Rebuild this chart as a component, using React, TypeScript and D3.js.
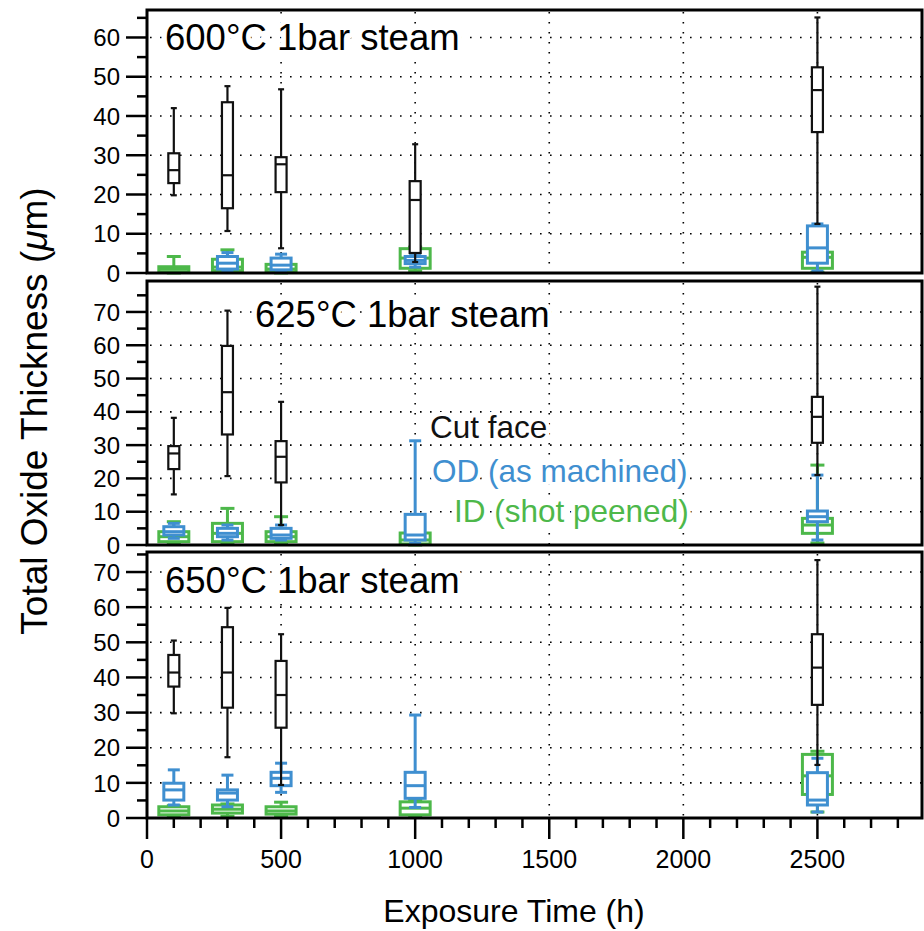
import React from 'react';
import * as d3 from 'd3';

// Box statistics: [exposure time (h), low whisker, Q1, median, Q3, high whisker] in µm
const cut600 = [
  [100, 19.8, 22.9, 26.2, 30.5, 42],
  [300, 10.7, 16.5, 24.9, 43.5, 47.6],
  [500, 6.3, 20.6, 27.7, 29.5, 46.8],
  [1000, 2.8, 5.1, 18.6, 23.4, 32.8],
  [2500, 12.5, 35.9, 46.6, 52.4, 65.1],
];
const od600 = [
  [300, 0.5, 1.0, 2.5, 4.2, 5.2],
  [500, 0.3, 0.8, 2.0, 3.8, 4.8],
  [1000, 1.5, 2.4, 3.2, 4.2, 5.0],
  [2500, 0.5, 2.5, 6.4, 12.0, 12.5],
];
const id600 = [
  [100, 0, 0.3, 1.0, 1.6, 4.2],
  [300, 0.3, 0.6, 1.5, 3.5, 5.9],
  [500, 0, 0.3, 1.0, 2.2, 3.5],
  [1000, 0.5, 1.2, 3.8, 6.2, 6.6],
  [2500, 0.2, 1.2, 4.0, 5.3, 6.0],
];

const cut625 = [
  [100, 15.2, 22.8, 27.5, 29.7, 38.2],
  [300, 20.7, 33.2, 45.9, 59.8, 70.4],
  [500, 6.0, 18.8, 26.5, 31.2, 43.0],
  [2500, 21.0, 30.7, 38.5, 44.5, 77.6],
];
const od625 = [
  [100, 2.0, 3.0, 4.0, 5.5, 6.5],
  [300, 1.5, 2.5, 3.5, 5.0, 6.0],
  [500, 1.5, 2.0, 3.0, 5.0, 6.0],
  [1000, 0.5, 1.5, 3.0, 9.2, 31.3],
  [2500, 1.5, 7.0, 8.5, 10.2, 21.0],
];
const id625 = [
  [100, 0.5, 1.0, 2.5, 4.0, 7.0],
  [300, 0.5, 1.0, 3.5, 6.5, 11.0],
  [500, 0.5, 1.0, 2.5, 4.0, 8.5],
  [1000, 0, 0.3, 1.5, 3.6, 4.0],
  [2500, 0.6, 3.5, 6.0, 8.0, 24.0],
];

const cut650 = [
  [100, 29.8, 37.4, 41.4, 46.4, 50.5],
  [300, 17.3, 31.4, 41.4, 54.3, 59.8],
  [500, 9.4, 25.7, 35.0, 44.7, 52.3],
  [2500, 15.1, 32.2, 42.8, 52.3, 73.4],
];
const od650 = [
  [100, 3.7, 5.1, 8.0, 9.9, 13.7],
  [300, 3.2, 5.1, 7.1, 8.0, 12.2],
  [500, 7.3, 9.2, 11.3, 13.0, 15.6],
  [1000, 3.0, 5.6, 9.2, 13.0, 29.3],
  [2500, 1.7, 3.7, 5.1, 12.9, 17.0],
];
const id650 = [
  [100, 0.5, 0.9, 2.0, 3.2, 3.5],
  [300, 0.5, 1.4, 2.5, 3.7, 4.0],
  [500, 0.5, 1.1, 2.0, 3.2, 4.5],
  [1000, 0.3, 0.9, 2.8, 4.6, 5.0],
  [2500, 1.7, 6.7, 12.0, 18.1, 19.0],
];

const panelTitles = ['600°C 1bar steam', '625°C 1bar steam', '650°C 1bar steam'];
const panelYMax = [67, 79.3, 75.7];
const panelYTicks = [
  [0, 10, 20, 30, 40, 50, 60],
  [0, 10, 20, 30, 40, 50, 60, 70],
  [0, 10, 20, 30, 40, 50, 60, 70],
];
const xTicks = [0, 500, 1000, 1500, 2000, 2500];
const legendLabels = ['Cut face', 'OD (as machined)', 'ID (shot peened)'];

const FONT = "'Liberation Sans', Arial, Helvetica, sans-serif";
const BLACK = '#111';
const BLUE = '#3f8fd0';
const GREEN = '#4db84a';

const series = [
  { data: [id600, id625, id650], color: GREEN, w: 30, cap: 14, sw: 3 },
  { data: [od600, od625, od650], color: BLUE, w: 20, cap: 12, sw: 3 },
  { data: [cut600, cut625, cut650], color: BLACK, w: 11, cap: 6, sw: 2.2 },
];

const X0 = 147;
const X1 = 922;
const panelBox = [
  { top: 10, bottom: 273 },
  { top: 281, bottom: 545 },
  { top: 552, bottom: 818 },
];

const x = d3.scaleLinear().domain([0, 2890]).range([X0, X1]);

function BoxMark({ d, y, color, w, cap, sw }: any) {
  const [t, lo, q1, med, q3, hi] = d;
  const cx = x(t);
  return (
    <g stroke={color} strokeWidth={sw} fill="none">
      <line x1={cx} x2={cx} y1={y(lo)} y2={y(q1)} />
      <line x1={cx} x2={cx} y1={y(q3)} y2={y(hi)} />
      <line x1={cx - cap / 2} x2={cx + cap / 2} y1={y(lo)} y2={y(lo)} />
      <line x1={cx - cap / 2} x2={cx + cap / 2} y1={y(hi)} y2={y(hi)} />
      <rect x={cx - w / 2} y={y(q3)} width={w} height={Math.max(0.5, y(q1) - y(q3))} fill="#fff" />
      <line x1={cx - w / 2} x2={cx + w / 2} y1={y(med)} y2={y(med)} />
    </g>
  );
}

function Panel({ i }: { i: number }) {
  const { top, bottom } = panelBox[i];
  const y = d3.scaleLinear().domain([0, panelYMax[i]]).range([bottom, top]);
  const ticks = panelYTicks[i];
  const minor = d3.range(5, panelYMax[i], 10);
  const grid = ticks.filter((v) => v > 0);
  const titleX = i === 1 ? 255 : 165;
  const titleBase = [50, 327, 593][i];
  return (
    <g>
      {/* dotted grid */}
      <g stroke="#000" strokeWidth={1.6} strokeDasharray="1.6 8.4">
        {grid.map((v) => (
          <line key={'h' + v} x1={X0 + 3} x2={X1} y1={y(v)} y2={y(v)} />
        ))}
        {xTicks.filter((v) => v > 0).map((v) => (
          <line key={'v' + v} x1={x(v)} x2={x(v)} y1={top + 2} y2={bottom} />
        ))}
      </g>
      {/* title with white backing */}
      <text x={titleX} y={titleBase} fontSize={36.5} fontFamily={FONT} fill="#000"
        stroke="#fff" strokeWidth={10} strokeLinejoin="round" paintOrder="stroke">
        {panelTitles[i]}
      </text>
      {i === 1 &&
        legendLabels.map((lab, k) => (
          <text key={lab} x={[430, 432, 454][k]} y={[438, 482, 522][k]} fontSize={31.5}
            fontFamily={FONT} fill={[BLACK, BLUE, GREEN][k]} stroke="#fff" strokeWidth={8}
            strokeLinejoin="round" paintOrder="stroke">
            {lab}
          </text>
        ))}
      {/* boxes */}
      {series.map((s, k) => (
        <g key={k}>
          {s.data[i].map((d: number[]) => (
            <BoxMark key={d[0]} d={d} y={y} color={s.color} w={s.w} cap={s.cap} sw={s.sw} />
          ))}
        </g>
      ))}
      {/* frame */}
      <rect x={X0} y={top} width={X1 - X0} height={bottom - top} fill="none" stroke="#000" strokeWidth={3} />
      {/* y ticks */}
      <g stroke="#000" strokeWidth={2.5}>
        {ticks.map((v) => (
          <line key={'t' + v} x1={X0 - 21} x2={X0} y1={y(v)} y2={y(v)} />
        ))}
        {minor.map((v) => (
          <line key={'m' + v} x1={X0 - 10} x2={X0} y1={y(v)} y2={y(v)} />
        ))}
      </g>
      {ticks.map((v) => (
        <text key={'l' + v} x={120} y={y(v)} dy="0.36em" textAnchor="end" fontSize={24} fontFamily={FONT}>
          {v}
        </text>
      ))}
    </g>
  );
}

export default function App() {
  const bottom = panelBox[2].bottom;
  const minorX = d3.range(100, 2890, 100).filter((v) => v % 500 !== 0);
  return (
    <svg width={924} height={931} style={{ display: 'block', position: 'absolute', left: 0, top: 0, background: '#fff' }}>
      <rect width={924} height={931} fill="#fff" />
      {[0, 1, 2].map((i) => (
        <Panel key={i} i={i} />
      ))}
      {/* x axis ticks */}
      <g stroke="#000" strokeWidth={2.5}>
        {xTicks.map((v) => (
          <line key={'x' + v} x1={x(v)} x2={x(v)} y1={bottom} y2={bottom + 21} />
        ))}
        {minorX.map((v) => (
          <line key={'xm' + v} x1={x(v)} x2={x(v)} y1={bottom} y2={bottom + 10} />
        ))}
      </g>
      {xTicks.map((v) => (
        <text key={'xl' + v} x={x(v)} y={868} textAnchor="middle" fontSize={25} fontFamily={FONT}>
          {v}
        </text>
      ))}
      <text x={514} y={922} textAnchor="middle" fontSize={32} fontFamily={FONT}>
        Exposure Time (h)
      </text>
      <text transform="translate(47,411) rotate(-90)" textAnchor="middle" fontSize={37} fontFamily={FONT}>
        Total Oxide Thickness (<tspan fontStyle="italic">μ</tspan>m)
      </text>
    </svg>
  );
}
